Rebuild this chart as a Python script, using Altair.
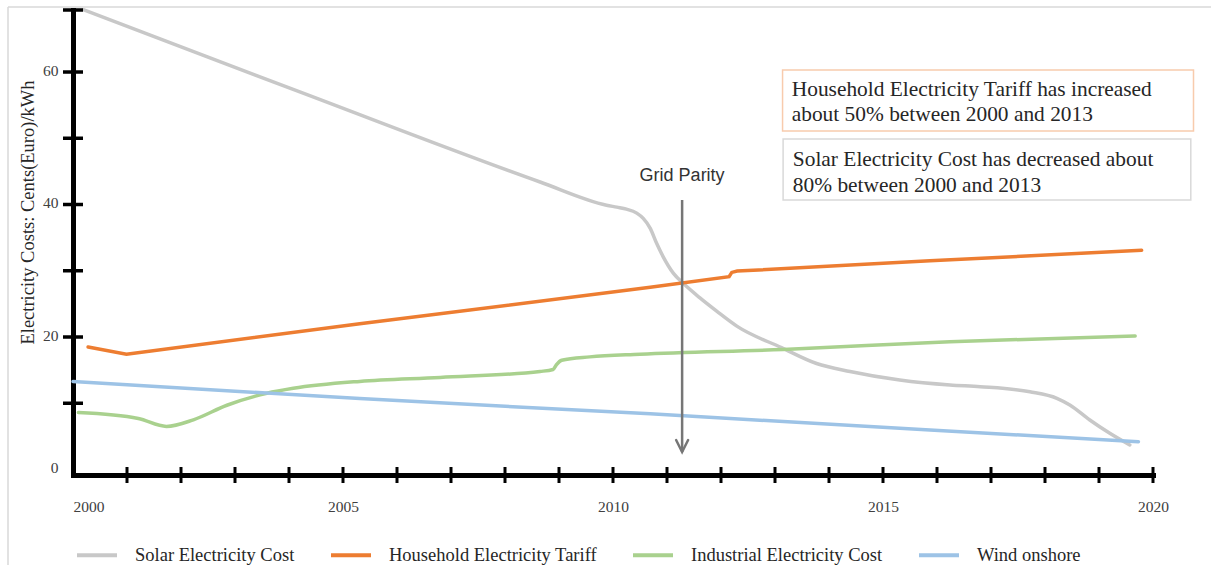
import altair as alt
import pandas as pd

# ---- series values (euro cents per kWh) ----
series_names = [
    "Solar Electricity Cost",
    "Household Electricity Tariff",
    "Industrial Electricity Cost",
    "Wind onshore",
]
series_colors = ["#c8c8c8", "#ed7d31", "#a9d18e", "#9dc3e6"]

solar_years = [2000.19, 2004.20, 2008.65, 2009.88, 2010.07, 2010.25, 2010.44, 2010.56,
               2010.69, 2010.81, 2010.93, 2011.12, 2011.30, 2011.61, 2011.92, 2012.30,
               2013.12, 2013.77, 2014.39, 2015.31, 2016.24, 2016.80, 2017.72, 2018.22,
               2018.46, 2018.83, 2019.20, 2019.57]
solar_cost = [69.4, 57.0, 43.4, 39.9, 39.6, 39.3, 38.7, 37.9,
              36.4, 34.1, 32.1, 29.6, 28.1, 25.9, 23.9, 21.6,
              18.4, 16.0, 14.8, 13.5, 12.75, 12.5, 11.74, 10.75,
              9.74, 7.47, 5.46, 3.7]

household_years = [2000.28, 2000.99, 2005.31, 2010.69, 2012.15, 2012.20, 2012.30, 2015.87, 2019.79]
household_tariff = [18.5, 17.4, 22.0, 27.5, 29.1, 29.75, 29.95, 31.5, 33.1]

industrial_years = [2000.10, 2001.21, 2001.73, 2002.23, 2002.85, 2003.59, 2004.08, 2005.31,
                    2006.80, 2008.65, 2008.89, 2008.95, 2009.05, 2009.57, 2010.50, 2013.15,
                    2016.24, 2019.67]
industrial_cost = [8.6, 7.7, 6.5, 7.5, 9.7, 11.5, 12.25, 13.3,
                   13.9, 14.8, 15.1, 15.8, 16.5, 17.0, 17.4, 18.1,
                   19.3, 20.15]

wind_years = [2000.0, 2005.31, 2010.69, 2015.87, 2019.73]
wind_cost = [13.3, 10.7, 8.4, 5.96, 4.2]

# ---- axis structure ----
year_ticks = list(range(2001, 2021))
year_labels = [2000, 2005, 2010, 2015, 2020]
value_ticks = [10, 20, 30, 40, 50, 60]
value_labels = [0, 20, 40, 60]
y_min, y_max = -0.83, 69.36

# ---- annotation ----
grid_parity_year = 2011.28
grid_parity_top = 40.68
grid_parity_tip = 2.64

SERIF = "Liberation Serif"
SANS = "Liberation Sans"

W, H = 1080, 465
PAD = {"left": 73, "top": 10, "right": 58, "bottom": 90}


def frame(name, years, values):
    return pd.DataFrame({"series": name, "year": years, "cost": values})


lines_df = pd.concat([
    frame(series_names[0], solar_years, solar_cost),
    frame(series_names[1], household_years, household_tariff),
    frame(series_names[2], industrial_years, industrial_cost),
    frame(series_names[3], wind_years, wind_cost),
], ignore_index=True)

x_scale = alt.Scale(domain=[2000, 2020], nice=False, zero=False)
y_scale = alt.Scale(domain=[y_min, y_max], nice=False, zero=False)

color = alt.Color(
    "series:N",
    scale=alt.Scale(domain=series_names, range=series_colors),
    legend=alt.Legend(
        title=None,
        orient="none",
        legendX=2,
        legendY=523,
        direction="horizontal",
        columns=4,
        symbolType="stroke",
        symbolSize=1600,
        symbolStrokeWidth=4,
        labelFont=SERIF,
        labelFontSize=18.5,
        labelColor="#262626",
        labelOffset=16,
        columnPadding=28,
        padding=0,
        labelLimit=400,
    ),
)

x_enc = alt.X(
    "year:Q",
    scale=x_scale,
    axis=alt.Axis(
        values=year_labels,
        format="d",
        title=None,
        ticks=False,
        tickSize=0,
        grid=False,
        domain=True,
        domainColor="black",
        domainWidth=5,
        domainCap="square",
        labelFont=SERIF,
        labelFontSize=15.5,
        labelColor="#404040",
        labelPadding=24,
        labelFlush=False,
        labelOverlap=False,
        labelAlign={"condition": {"test": "datum.value == 2000", "value": "left"}, "value": "center"},
    ),
)
y_enc = alt.Y(
    "cost:Q",
    scale=y_scale,
    axis=alt.Axis(
        values=value_labels,
        title="Electricity Costs: Cents(Euro)/kWh",
        titleFont=SERIF,
        titleFontSize=18.5,
        titleFontWeight="normal",
        titleColor="#262626",
        titleX=-46,
        titleY=202,
        titleAngle=270,
        titleAlign="center",
        titleBaseline="middle",
        ticks=False,
        tickSize=0,
        grid=False,
        domain=True,
        domainColor="black",
        domainWidth=5,
        domainCap="square",
        labelFont=SERIF,
        labelFontSize=15.5,
        labelColor="#404040",
        labelPadding=15,
        labelOffset=-2,
        labelFlush=False,
    ),
)

smooth = alt.Chart(lines_df).transform_filter(
    alt.FieldOneOfPredicate(field="series", oneOf=[series_names[0], series_names[2]])
).mark_line(interpolate="monotone", strokeWidth=3.5, strokeCap="round").encode(
    x=x_enc, y=y_enc, color=color, detail="series:N"
)
straight = alt.Chart(lines_df).transform_filter(
    alt.FieldOneOfPredicate(field="series", oneOf=[series_names[1], series_names[3]])
).mark_line(interpolate="linear", strokeWidth=3.5, strokeCap="round").encode(
    x=alt.X("year:Q", scale=x_scale),
    y=alt.Y("cost:Q", scale=y_scale),
    color=color,
    detail="series:N",
)

# crossing tick marks on both axes
ytick_df = pd.DataFrame({"cost": value_ticks + [y_max]})
ytick = alt.Chart(ytick_df).mark_rule(color="black", strokeWidth=3.5).encode(
    y=alt.Y("cost:Q", scale=y_scale),
    x=alt.value(-10),
    x2=alt.value(10),
)
xtick_df = pd.DataFrame({"year": year_ticks})
xtick = alt.Chart(xtick_df).mark_rule(color="black", strokeWidth=3).encode(
    x=alt.X("year:Q", scale=x_scale),
    y=alt.value(H - 8),
    y2=alt.value(H + 8),
)

# grid parity arrow
arrow_df = pd.DataFrame({"year": [grid_parity_year], "top": [grid_parity_top], "tip": [grid_parity_tip]})
arrow_shaft = alt.Chart(arrow_df).mark_rule(color="#767676", strokeWidth=2.5).encode(
    x=alt.X("year:Q", scale=x_scale),
    y=alt.Y("top:Q", scale=y_scale),
    y2="tip:Q",
)
arrow_head = alt.Chart(arrow_df).mark_point(
    shape="M -0.5 -1 L 0 0 L 0.5 -1",
    size=576,
    filled=False,
    color="#767676",
    strokeWidth=2.5,
    opacity=1,
    strokeCap="round",
    strokeJoin="miter",
).encode(
    x=alt.X("year:Q", scale=x_scale),
    y=alt.Y("tip:Q", scale=y_scale),
)
parity_label = alt.Chart(pd.DataFrame({"year": [grid_parity_year], "cost": [44.3], "t": ["Grid Parity"]})).mark_text(
    font=SANS, fontSize=18, color="#333333", align="center", baseline="middle"
).encode(
    x=alt.X("year:Q", scale=x_scale),
    y=alt.Y("cost:Q", scale=y_scale),
    text="t:N",
)

# note boxes
box_df = pd.DataFrame({
    "x0": [2013.14, 2013.15],
    "x1": [2020.75, 2020.70],
    "y0": [60.30, 49.89],
    "y1": [51.09, 40.68],
    "edge": ["#f8cbad", "#d9d9d9"],
})
boxes = alt.Chart(box_df).mark_rect(fill="white", strokeWidth=1.5).encode(
    x=alt.X("x0:Q", scale=x_scale),
    x2="x1:Q",
    y=alt.Y("y0:Q", scale=y_scale),
    y2="y1:Q",
    stroke=alt.Stroke("edge:N", scale=None),
)
note_df = pd.DataFrame({
    "x": [2013.31, 2013.31, 2013.33, 2013.33],
    "y": [57.28, 53.51, 46.72, 42.79],
    "t": [
        "Household Electricity Tariff has increased",
        "about 50% between 2000 and 2013",
        "Solar Electricity Cost has decreased about",
        "80% between 2000 and 2013",
    ],
})
notes = alt.Chart(note_df).mark_text(
    font=SERIF, fontSize=21.4, color="#262626", align="left", baseline="middle"
).encode(
    x=alt.X("x:Q", scale=x_scale),
    y=alt.Y("y:Q", scale=y_scale),
    text="t:N",
)

# thin outer frame: left edge and top edge, running off the right side
one = pd.DataFrame({"k": [0]})
frame_style = dict(color="#d9d9d9", strokeWidth=1.5)
frame_bottom = H + PAD["bottom"]
frame_right = W + PAD["right"]
frame_left = alt.Chart(one).mark_rule(**frame_style).encode(x=alt.value(-65), y=alt.value(-3), y2=alt.value(frame_bottom))
frame_top = alt.Chart(one).mark_rule(**frame_style).encode(x=alt.value(-65), x2=alt.value(frame_right), y=alt.value(-3))

chart = alt.layer(
    frame_left, frame_top,
    smooth, straight,
    arrow_shaft, arrow_head, parity_label,
    boxes, notes,
    ytick, xtick,
).properties(
    width=W,
    height=H,
    autosize=alt.AutoSizeParams(type="none"),
    padding=PAD,
    background="white",
).configure_view(stroke=None)

chart.save("out.html", embed_options={"renderer": "svg", "actions": False})
